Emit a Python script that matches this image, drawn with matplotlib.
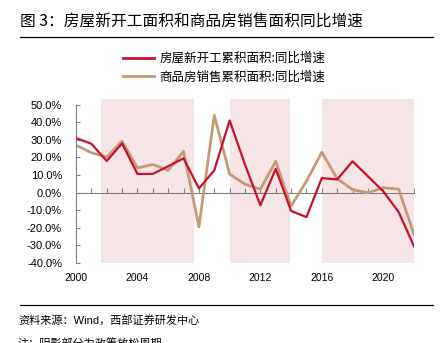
import matplotlib.pyplot as plt
from matplotlib.lines import Line2D
from matplotlib.patches import Rectangle

plt.rcParams['font.family'] = ['Liberation Sans', 'Noto Sans CJK SC', 'DejaVu Sans']
CJK = ['Noto Sans CJK SC', 'DejaVu Sans']

years = list(range(2000, 2023))
# 房屋新开工累积面积:同比增速 (%)
new_start = [31.0, 27.8, 18.0, 28.0, 10.6, 10.7, 15.0, 19.5, 2.4, 12.7, 41.0, 16.0,
             -7.2, 13.6, -10.4, -13.9, 8.3, 7.5, 17.8, 9.3, 0.7, -11.0, -30.5]
# 商品房销售累积面积:同比增速 (%)
sales = [27.0, 22.7, 20.2, 29.3, 14.0, 16.0, 12.7, 23.5, -19.5, 44.0, 10.5, 4.8,
         1.9, 17.8, -7.6, 6.5, 23.0, 7.9, 1.7, -0.1, 2.8, 2.0, -23.7]
# 阴影：政策放松周期
shade_periods = [(2001.6, 2007.7), (2010.0, 2013.9), (2016.0, 2022.0)]

labels = ['房屋新开工累积面积:同比增速', '商品房销售累积面积:同比增速']
RED = '#c8102e'
TAN = '#c49a74'
SHADE = '#f6e5e7'

fig = plt.figure(figsize=(4.43, 3.43), dpi=100)
ax = fig.add_axes([76 / 443, 1 - 263 / 343, 338 / 443, 158.3 / 343])

for x0, x1 in shade_periods:
    ax.add_patch(Rectangle((x0, -40), x1 - x0, 93, facecolor=SHADE,
                           edgecolor='none', clip_on=False, zorder=0))

ax.plot(years, new_start, color=RED, lw=1.6, zorder=3)
ax.plot(years, sales, color=TAN, lw=2.0, zorder=2)

ax.set_xlim(2000, 2022)
ax.set_ylim(-40, 50)
ax.set_yticks(range(-40, 51, 10))
ax.set_yticklabels([f'{v:.1f}%' for v in range(-40, 51, 10)], fontsize=8)
ax.tick_params(axis='y', direction='in', length=3, color='#808080', pad=10)

for s in ['top', 'right']:
    ax.spines[s].set_visible(False)
ax.spines['left'].set_color('#808080')
ax.spines['left'].set_linewidth(0.8)
ax.spines['bottom'].set_position(('data', 0))
ax.spines['bottom'].set_color('#808080')
ax.spines['bottom'].set_linewidth(0.8)
ax.spines['bottom'].set_zorder(1)
ax.set_xticks(years)
ax.tick_params(axis='x', direction='in', length=3.5, color='#808080',
               labelbottom=False)
ax.patch.set_alpha(0)

sec = ax.secondary_xaxis('bottom')
sec.set_xticks(range(2000, 2021, 4))
sec.tick_params(length=0, labelsize=7.5, pad=7)
sec.spines['bottom'].set_visible(False)

handles = [Line2D([], [], color=RED, lw=2), Line2D([], [], color=TAN, lw=2)]
fig.legend(handles, labels, loc='upper left', bbox_to_anchor=(118 / 443, 1 - 47 / 343),
           frameon=False, prop={'family': CJK, 'size': 9}, handlelength=2.5,
           handletextpad=0.4, labelspacing=0.45, borderaxespad=0)

fig.text(20 / 443, 1 - 22 / 343, '图 3：房屋新开工面积和商品房销售面积同比增速',
         family=CJK, fontsize=11.3, va='center', ha='left')
fig.add_artist(Line2D([20 / 443, 433 / 443], [1 - 37 / 343] * 2, color='black', lw=0.9))
fig.add_artist(Line2D([20 / 443, 433 / 443], [1 - 305 / 343] * 2, color='black', lw=0.9))
fig.text(18 / 443, 1 - 320 / 343, '资料来源：Wind，西部证券研发中心',
         family=['Liberation Sans', 'Noto Sans CJK SC'], fontsize=8, va='center', ha='left')
fig.text(18 / 443, 1 - 339 / 343, '注：阴影部分为政策放松周期',
         family=CJK, fontsize=8, va='top', ha='left')

fig.savefig('out.png', dpi=100)
